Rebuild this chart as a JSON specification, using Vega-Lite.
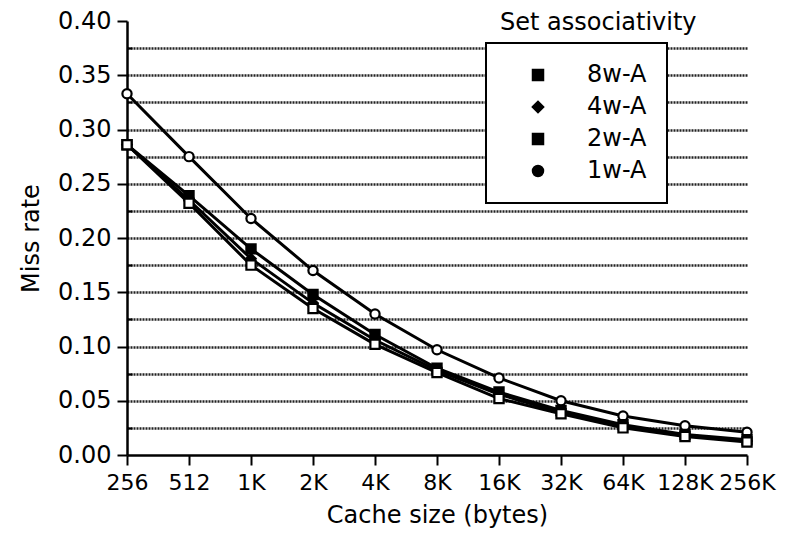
{
  "$schema": "https://vega.github.io/schema/vega-lite/v6.json",
  "autosize": {"type": "none"},
  "padding": {"left": 127, "top": 21, "right": 47, "bottom": 81},
  "width": 620,
  "height": 434,
  "background": "white",
  "title": {"text": "Set associativity", "anchor": "start", "frame": "group", "dx": 373, "offset": -26, "fontSize": 24, "font": "DejaVu Sans", "fontWeight": "normal", "color": "black"},
  "config": {
    "font": "DejaVu Sans",
    "view": {"stroke": null},
    "legend": {"strokeWidth": 2},
    "axis": {"labelFontSize": 24, "titleFontSize": 24, "titleFontWeight": "normal", "labelColor": "black", "titleColor": "black", "domainColor": "black", "tickColor": "black", "domainWidth": 2.5, "tickWidth": 2}
  },
  "data": {"values": [
    {"size": "256", "assoc": "1w-A", "rate": 0.333},
    {"size": "512", "assoc": "1w-A", "rate": 0.275},
    {"size": "1K", "assoc": "1w-A", "rate": 0.218},
    {"size": "2K", "assoc": "1w-A", "rate": 0.170},
    {"size": "4K", "assoc": "1w-A", "rate": 0.130},
    {"size": "8K", "assoc": "1w-A", "rate": 0.097},
    {"size": "16K", "assoc": "1w-A", "rate": 0.071},
    {"size": "32K", "assoc": "1w-A", "rate": 0.050},
    {"size": "64K", "assoc": "1w-A", "rate": 0.036},
    {"size": "128K", "assoc": "1w-A", "rate": 0.027},
    {"size": "256K", "assoc": "1w-A", "rate": 0.021},
    {"size": "256", "assoc": "2w-A", "rate": 0.286},
    {"size": "512", "assoc": "2w-A", "rate": 0.239},
    {"size": "1K", "assoc": "2w-A", "rate": 0.190},
    {"size": "2K", "assoc": "2w-A", "rate": 0.148},
    {"size": "4K", "assoc": "2w-A", "rate": 0.111},
    {"size": "8K", "assoc": "2w-A", "rate": 0.080},
    {"size": "16K", "assoc": "2w-A", "rate": 0.058},
    {"size": "32K", "assoc": "2w-A", "rate": 0.041},
    {"size": "64K", "assoc": "2w-A", "rate": 0.028},
    {"size": "128K", "assoc": "2w-A", "rate": 0.019},
    {"size": "256K", "assoc": "2w-A", "rate": 0.014},
    {"size": "256", "assoc": "4w-A", "rate": 0.286},
    {"size": "512", "assoc": "4w-A", "rate": 0.235},
    {"size": "1K", "assoc": "4w-A", "rate": 0.181},
    {"size": "2K", "assoc": "4w-A", "rate": 0.140},
    {"size": "4K", "assoc": "4w-A", "rate": 0.106},
    {"size": "8K", "assoc": "4w-A", "rate": 0.078},
    {"size": "16K", "assoc": "4w-A", "rate": 0.056},
    {"size": "32K", "assoc": "4w-A", "rate": 0.039},
    {"size": "64K", "assoc": "4w-A", "rate": 0.026},
    {"size": "128K", "assoc": "4w-A", "rate": 0.018},
    {"size": "256K", "assoc": "4w-A", "rate": 0.013},
    {"size": "256", "assoc": "8w-A", "rate": 0.286},
    {"size": "512", "assoc": "8w-A", "rate": 0.232},
    {"size": "1K", "assoc": "8w-A", "rate": 0.175},
    {"size": "2K", "assoc": "8w-A", "rate": 0.135},
    {"size": "4K", "assoc": "8w-A", "rate": 0.102},
    {"size": "8K", "assoc": "8w-A", "rate": 0.076},
    {"size": "16K", "assoc": "8w-A", "rate": 0.052},
    {"size": "32K", "assoc": "8w-A", "rate": 0.038},
    {"size": "64K", "assoc": "8w-A", "rate": 0.025},
    {"size": "128K", "assoc": "8w-A", "rate": 0.017},
    {"size": "256K", "assoc": "8w-A", "rate": 0.012}
  ]},
  "encoding": {
    "x": {"field": "size", "type": "ordinal", "sort": ["256", "512", "1K", "2K", "4K", "8K", "16K", "32K", "64K", "128K", "256K"],
      "scale": {"type": "point", "padding": 0},
      "axis": {"title": "Cache size (bytes)", "labelAngle": 0, "labelFontSize": 22, "tickSize": 10, "labelPadding": 7, "titlePadding": 10, "grid": false}},
    "y": {"field": "rate", "type": "quantitative", "scale": {"domain": [0, 0.4], "nice": false},
      "axis": {"title": "Miss rate", "titlePadding": 14,
        "values": [0, 0.025, 0.05, 0.075, 0.1, 0.125, 0.15, 0.175, 0.2, 0.225, 0.25, 0.275, 0.3, 0.325, 0.35, 0.375, 0.4],
        "labelExpr": "abs(datum.value * 20 - round(datum.value * 20)) < 0.001 ? format(datum.value, '.2f') : ''",
        "labelPadding": 6,
        "tickSize": {"condition": {"test": "abs(datum.value * 20 - round(datum.value * 20)) < 0.001", "value": 10}, "value": -5},
        "grid": true, "gridColor": "#222", "gridWidth": 2.4, "gridDash": [2, 1],
        "gridOpacity": {"condition": {"test": "datum.value < 0.001 || datum.value > 0.399", "value": 0}, "value": 1}}}
  },
  "layer": [
    {"mark": {"type": "line", "color": "black", "strokeWidth": 3},
     "encoding": {"detail": {"field": "assoc"}}},
    {"mark": {"type": "point", "stroke": "black", "strokeWidth": 2.2, "opacity": 1, "size": 85},
     "encoding": {
       "shape": {"field": "assoc", "type": "nominal",
         "scale": {"domain": ["8w-A", "4w-A", "2w-A", "1w-A"], "range": ["square", "diamond", "square", "circle"]},
         "legend": {"title": null, "orient": "none", "legendX": 359, "legendY": 22,
           "strokeColor": "black", "fillColor": "white", "padding": 20,
           "symbolSize": 100, "symbolStrokeWidth": 2.5, "symbolOffset": 20,
           "labelFontSize": 24, "labelColor": "black", "labelOffset": 37, "rowPadding": 8}},
       "fill": {"condition": {"test": "datum.assoc === '8w-A' || datum.assoc === '1w-A'", "value": "white"}, "value": "black"}
     }
    }
  ]
}
